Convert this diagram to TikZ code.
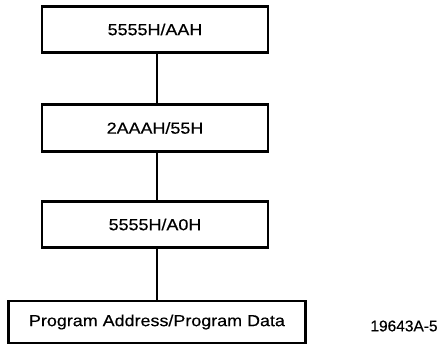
\documentclass[tikz,border=0pt]{standalone}
\usepackage{fontspec}
\setmainfont{Liberation Sans}
\newfontfamily\boxfont[FakeStretch=1.12,FakeBold=0.4]{Liberation Sans}
\newfontfamily\lblfont[FakeBold=0.4]{Liberation Sans}
\begin{document}
\begin{tikzpicture}[x=1pt,y=-1pt,
  stepbox/.style={draw,line width=2.8pt,inner sep=0pt,font=\boxfont\fontsize{16}{18}\selectfont},
  conn/.style={line width=1.5pt}]
\useasboundingbox (0,0) rectangle (446,347);
\node[stepbox,minimum width=226pt,minimum height=46pt] (b1) at (155,29.5) {5555H/AAH};
\node[stepbox,minimum width=226pt,minimum height=47pt] (b2) at (155,128) {2AAAH/55H};
\node[stepbox,minimum width=226pt,minimum height=46pt] (b3) at (155,224.5) {5555H/A0H};
\node[stepbox,minimum width=297pt,minimum height=42pt] (b4) at (157,322) {Program Address/Program Data};
\node[font=\lblfont\fontsize{15.5}{17}\selectfont] (lbl) at (404,326) {19643A-5};
\draw[conn] (b1.south -| b4.north) -- (b2.north -| b4.north);
\draw[conn] (b2.south -| b4.north) -- (b3.north -| b4.north);
\draw[conn] (b3.south -| b4.north) -- (b4.north);
\end{tikzpicture}
\end{document}
